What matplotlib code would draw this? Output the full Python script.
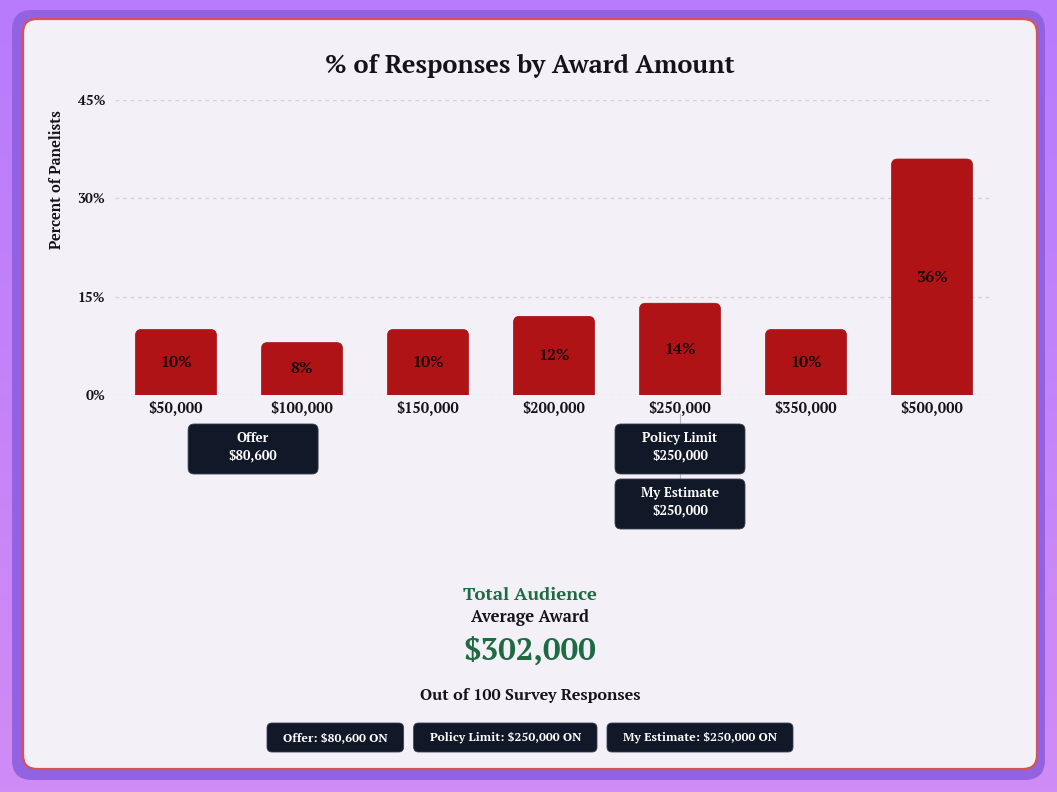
import numpy as np
import matplotlib
matplotlib.use('Agg')
import matplotlib.pyplot as plt
from matplotlib import font_manager
from matplotlib.patches import FancyBboxPatch, PathPatch
from matplotlib.path import Path
from matplotlib.colors import LinearSegmentedColormap

# data
amounts = [50000, 100000, 150000, 200000, 250000, 350000, 500000]
percents = [10, 8, 10, 12, 14, 10, 36]
marker_names = ['Offer', 'Policy Limit', 'My Estimate']
marker_values = [80600, 250000, 250000]
n_responses = 100
y_ticks = [0, 15, 30, 45]


def has_bold(name):
    for f in font_manager.fontManager.ttflist:
        if f.name != name or f.style != 'normal':
            continue
        w = f.weight if isinstance(f.weight, int) else font_manager.weight_dict.get(f.weight, 400)
        if w >= 600:
            return True
    return False


# Georgia look-alike with a real bold face, else DejaVu Serif
family, fs = 'DejaVu Serif', 0.84
for cand in ['Gelasio', 'Georgia', 'Merriweather', 'PT Serif', 'Noto Serif', 'Lora']:
    if has_bold(cand):
        family, fs = cand, 1.0
        break
plt.rcParams['font.family'] = [family, 'DejaVu Serif']
plt.rcParams['font.weight'] = 'bold'

W, H = 1057, 792
DARK = '#111827'
GREEN = '#1e6b43'
BAR = '#b01316'
TXT = '#15121c'

def money(v):
    return f'${v:,}'

fig = plt.figure(figsize=(W / 100, H / 100), dpi=100)

# background in pixel coords
bg = fig.add_axes([0, 0, 1, 1], zorder=0)
bg.set_xlim(0, W)
bg.set_ylim(H, 0)
bg.axis('off')
grad = np.linspace(0, 1, 256).reshape(-1, 1)
cmap = LinearSegmentedColormap.from_list('bg', ['#b77bfd', '#d08cf5'])
bg.imshow(grad, extent=[0, W, H, 0], aspect='auto', cmap=cmap)
bg.add_patch(FancyBboxPatch((12, 10), 1033, 770, boxstyle='round,pad=0,rounding_size=20',
                            fc='#9362e0', ec='none'))
bg.add_patch(FancyBboxPatch((23, 19), 1014, 750, boxstyle='round,pad=0,rounding_size=14',
                            fc='#f3f0f8', ec='#d9534f', lw=1.6))

# chart
ax = fig.add_axes([115 / W, 1 - 395 / H, (993 - 115) / W, (395 - 100) / H], zorder=2)
ax.set_facecolor('none')
x = np.arange(len(amounts))
bw = 0.643
ax.set_xlim(-0.484, len(amounts) - 1 + 0.484)
ax.set_ylim(0, 45)

# rounded top corners, 6 px radius
p0 = ax.transData.transform((0, 0))
p1 = ax.transData.transform((1, 1))
rx = 6 / (p1[0] - p0[0])
ry = 6 / (p1[1] - p0[1])
codes = [Path.MOVETO, Path.LINETO, Path.CURVE3, Path.CURVE3, Path.LINETO,
         Path.CURVE3, Path.CURVE3, Path.LINETO, Path.CLOSEPOLY]
for xi, v in zip(x, percents):
    x0, x1 = xi - bw / 2, xi + bw / 2
    verts = [(x0, 0), (x0, v - ry), (x0, v), (x0 + rx, v), (x1 - rx, v),
             (x1, v), (x1, v - ry), (x1, 0), (x0, 0)]
    ax.add_patch(PathPatch(Path(verts, codes), fc=BAR, ec='#a01215', lw=0.5, zorder=3))
    ax.text(xi, v / 2, f'{v}%', ha='center', va='center', fontsize=11.5 * fs,
            fontweight='bold', color='#1a0606', zorder=4)

for yv in y_ticks:
    ax.axhline(yv, color='#d2d0da', lw=0.9, ls=(0, (3, 3)), zorder=1)
ax.set_yticks(y_ticks)
ax.set_yticklabels([f'{t}%' for t in y_ticks], fontsize=10 * fs, color=TXT, fontweight='bold')
ax.set_xticks(x)
ax.set_xticklabels([money(a) for a in amounts], fontsize=10.5 * fs, color=TXT, fontweight='bold')
ax.tick_params(length=0)
ax.tick_params(axis='x', pad=4)
ax.tick_params(axis='y', pad=7)
for s in ax.spines.values():
    s.set_visible(False)

fig.text(57 / W, 1 - 180 / H, 'Percent of Panelists', rotation=90, ha='center', va='center',
         fontsize=10.5 * fs, color=TXT, fontweight='bold')
fig.text(530 / W, 1 - 66 / H, '% of Responses by Award Amount', ha='center', va='center',
         fontsize=18.3 * fs, color=TXT, fontweight='bold')

# marker boxes under the axis
slots = {}
for name, val in zip(marker_names, marker_values):
    xpos = np.interp(val, amounts, x)
    px = ax.transData.transform((xpos, 0))[0]
    k = slots.get(val, 0)
    slots[val] = k + 1
    top = 424 + k * 55
    if k > 0 or float(xpos).is_integer():
        bg.plot([px, px], [414 if k == 0 else top - 5, top], color='#b8b8c4', lw=0.8, zorder=1)
    bg.add_patch(FancyBboxPatch((px - 65, top), 130, 50, boxstyle='round,pad=0,rounding_size=6',
                                fc=DARK, ec='#3a4150', lw=0.6, zorder=3))
    bg.text(px, top + 14, name, ha='center', va='center', fontsize=9.5 * fs, color='white',
            fontweight='bold', zorder=4)
    bg.text(px, top + 32, money(val), ha='center', va='center', fontsize=9.5 * fs, color='white',
            fontweight='bold', zorder=4)

# summary
avg_award = int(round(np.dot(amounts, percents) / 100))
bg.text(530, 595, 'Total Audience', ha='center', va='center', fontsize=13.3 * fs, color=GREEN,
        fontweight='bold')
bg.text(530, 618, 'Average Award', ha='center', va='center', fontsize=12 * fs, color=TXT,
        fontweight='bold')
bg.text(530, 651, money(avg_award), ha='center', va='center', fontsize=22.4 * fs, color=GREEN,
        fontweight='bold')
bg.text(530, 695, f'Out of {n_responses} Survey Responses', ha='center', va='center',
        fontsize=11.6 * fs, color=TXT, fontweight='bold')

# pills
fig.canvas.draw()
renderer = fig.canvas.get_renderer()
labels = [f'{n}: {money(v)} ON' for n, v in zip(marker_names, marker_values)]
texts = [bg.text(0, 737.5, s, ha='center', va='center', fontsize=8.8 * fs, color='white',
                 fontweight='bold', zorder=4)
         for s in labels]
widths = [t.get_window_extent(renderer).width + 32 for t in texts]
gap = 10
start = 530 - (sum(widths) + gap * (len(widths) - 1)) / 2
for t, w in zip(texts, widths):
    bg.add_patch(FancyBboxPatch((start, 723), w, 29, boxstyle='round,pad=0,rounding_size=5',
                                fc=DARK, ec='#3a4150', lw=0.6, zorder=3))
    t.set_x(start + w / 2)
    start += w + gap

fig.savefig('out.png', dpi=100)
